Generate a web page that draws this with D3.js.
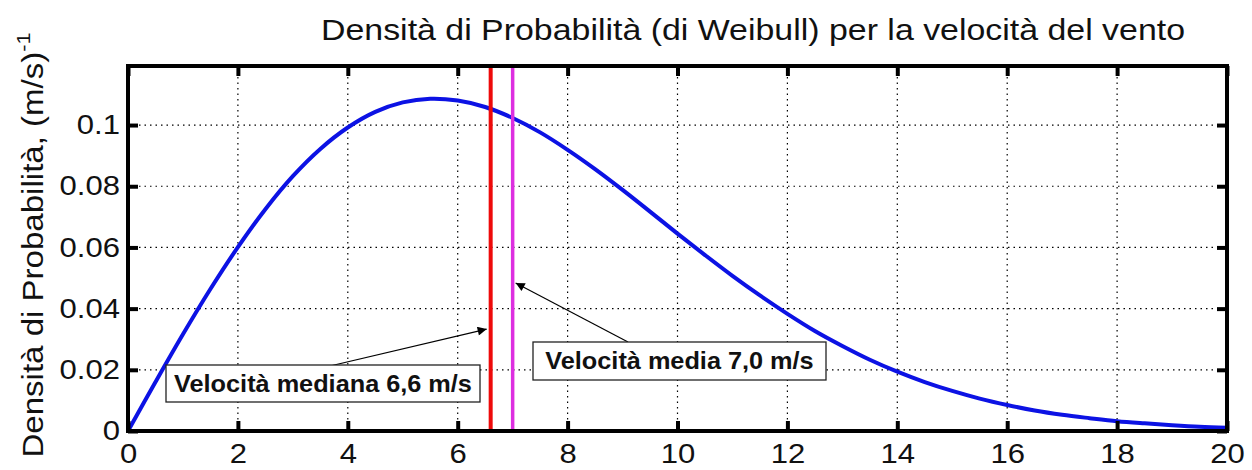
<!DOCTYPE html>
<html>
<head>
<meta charset="utf-8">
<script src="https://cdn.jsdelivr.net/npm/d3@7"></script>
<style>
  html, body { margin: 0; padding: 0; background: #fff; }
  svg { display: block; }
  text { font-family: "Liberation Sans", Arial, Helvetica, sans-serif; }
</style>
</head>
<body>
<svg id="chart" width="1252" height="470"></svg>
<script>
// Wind speed (m/s) and Weibull probability density (m/s)^-1
const speed = [0, 0.5, 1, 1.5, 2, 2.5, 3, 3.5, 4, 4.5, 5, 5.5, 6, 6.5, 7, 7.5, 8, 8.5, 9, 9.5,
  10, 10.5, 11, 11.5, 12, 12.5, 13, 13.5, 14, 14.5, 15, 15.5, 16, 16.5, 17, 17.5, 18, 18.5, 19, 19.5, 20];
const density = [0, 0.0160, 0.0316, 0.0464, 0.0601, 0.0725, 0.0833, 0.0922, 0.0992, 0.1043, 0.1074,
  0.1086, 0.1080, 0.1059, 0.1023, 0.0976, 0.0919, 0.0856, 0.0788, 0.0717, 0.0645, 0.0575, 0.0507,
  0.0443, 0.0383, 0.0327, 0.0278, 0.0233, 0.0194, 0.0160, 0.0131, 0.0106, 0.0085, 0.0067, 0.0053,
  0.0042, 0.0032, 0.0025, 0.0019, 0.0014, 0.0011];

const xTicks = [0, 2, 4, 6, 8, 10, 12, 14, 16, 18, 20];
const yTicks = [0, 0.02, 0.04, 0.06, 0.08, 0.1];
const yTickLabels = ["0", "0.02", "0.04", "0.06", "0.08", "0.1"];

const medianSpeed = 6.6;
const meanSpeed = 7.0;
const medianLabel = "Velocità mediana 6,6 m/s";
const meanLabel = "Velocità media 7,0 m/s";

const titleText = "Densità di Probabilità (di Weibull) per la velocità del vento";
const yLabelText = "Densità di Probabilità, (m/s)";

const svg = d3.select("#chart");
const plot = { left: 128, right: 1227, top: 66, bottom: 431 };
const wide = 1.15; // horizontal stretch applied to the wide Helvetica-style lettering

const x = d3.scaleLinear().domain([0, 20]).range([plot.left, plot.right]);
const y = d3.scaleLinear().domain([0, 0.1193]).range([plot.bottom, plot.top]);

// dotted grid
const grid = svg.append("g").attr("stroke", "#000").attr("stroke-width", 1.2)
  .attr("stroke-dasharray", "1.5,4").attr("fill", "none");
grid.selectAll("line.gx").data(xTicks.slice(1, -1)).join("line").attr("class", "gx")
  .attr("x1", d => x(d)).attr("x2", d => x(d)).attr("y1", plot.top).attr("y2", plot.bottom);
grid.selectAll("line.gy").data(yTicks.slice(1)).join("line").attr("class", "gy")
  .attr("y1", d => y(d)).attr("y2", d => y(d)).attr("x1", plot.left).attr("x2", plot.right);

// density curve
const line = d3.line().x((d, i) => x(speed[i])).y(d => y(d)).curve(d3.curveCatmullRom);
svg.append("path").datum(density).attr("d", line)
  .attr("fill", "none").attr("stroke", "#0c12e4").attr("stroke-width", 4);

// median and mean markers
svg.append("line").attr("x1", x(medianSpeed)).attr("x2", x(medianSpeed))
  .attr("y1", plot.top).attr("y2", plot.bottom).attr("stroke", "#ee0a0a").attr("stroke-width", 4);
svg.append("line").attr("x1", x(meanSpeed)).attr("x2", x(meanSpeed))
  .attr("y1", plot.top).attr("y2", plot.bottom).attr("stroke", "#dd2ee0").attr("stroke-width", 3.5);

// axes with inward ticks
const tickLen = 10;
const axB = d3.axisBottom(x).tickValues(xTicks).tickSize(-tickLen).tickPadding(13);
const axT = d3.axisTop(x).tickValues(xTicks).tickSize(-tickLen).tickFormat("");
const axL = d3.axisLeft(y).tickValues(yTicks).tickSize(-tickLen).tickPadding(7)
  .tickFormat((d, i) => yTickLabels[i]);
const axR = d3.axisRight(y).tickValues(yTicks).tickSize(-tickLen).tickFormat("");

function styleAxis(g) {
  g.select(".domain").remove();
  g.selectAll(".tick line").attr("stroke", "#000").attr("stroke-width", 4);
  g.selectAll(".tick text").attr("fill", "#111").attr("font-size", 27)
    .attr("font-family", "'Liberation Sans', Arial, sans-serif")
    .attr("transform", `scale(${wide},1)`);
}
svg.append("g").attr("transform", `translate(0,${plot.bottom})`).call(axB).call(styleAxis);
svg.append("g").attr("transform", `translate(0,${plot.top})`).call(axT).call(styleAxis);
svg.append("g").attr("transform", `translate(${plot.left},0)`).call(axL).call(styleAxis);
svg.append("g").attr("transform", `translate(${plot.right},0)`).call(axR).call(styleAxis);

// frame
svg.append("rect").attr("x", plot.left).attr("y", plot.top)
  .attr("width", plot.right - plot.left).attr("height", plot.bottom - plot.top)
  .attr("fill", "none").attr("stroke", "#000").attr("stroke-width", 4);

// title
svg.append("text").attr("transform", `translate(753,40) scale(1.13,1)`).attr("text-anchor", "middle")
  .attr("font-size", 30).attr("fill", "#111").text(titleText);

// y-axis label
const yl = svg.append("text").attr("transform", `translate(43,245) rotate(-90) scale(1.14,1)`)
  .attr("text-anchor", "middle").attr("font-size", 29).attr("fill", "#111");
yl.append("tspan").text(yLabelText);
yl.append("tspan").attr("dy", -13).attr("font-size", 19).text("-1");

// annotations
svg.append("defs").append("marker").attr("id", "ah").attr("viewBox", "0 0 10 10")
  .attr("refX", 10).attr("refY", 5).attr("markerWidth", 14).attr("markerHeight", 9)
  .attr("markerUnits", "userSpaceOnUse").attr("orient", "auto")
  .append("path").attr("d", "M0,0 L10,5 L0,10 z").attr("fill", "#000");

function annotate(label, bx, by, bw, bh, ax0, ay0, targetX, targetY) {
  svg.append("line").attr("x1", ax0).attr("y1", ay0).attr("x2", targetX).attr("y2", targetY)
    .attr("stroke", "#000").attr("stroke-width", 1.2).attr("marker-end", "url(#ah)");
  svg.append("rect").attr("x", bx).attr("y", by).attr("width", bw).attr("height", bh)
    .attr("fill", "#fff").attr("stroke", "#222").attr("stroke-width", 1.3);
  svg.append("text").attr("transform", `translate(${bx + bw / 2},${by + bh / 2 + 8}) scale(1.1,1)`)
    .attr("text-anchor", "middle")
    .attr("font-size", 23).attr("font-weight", "bold").attr("fill", "#111").text(label);
}
annotate(medianLabel, 166, 365, 314, 37, 330, 366, x(medianSpeed) - 4, y(0.0333));
annotate(meanLabel, 533, 342, 293, 38, 628, 342, x(meanSpeed) + 3, y(0.0484));
</script>
</body>
</html>
